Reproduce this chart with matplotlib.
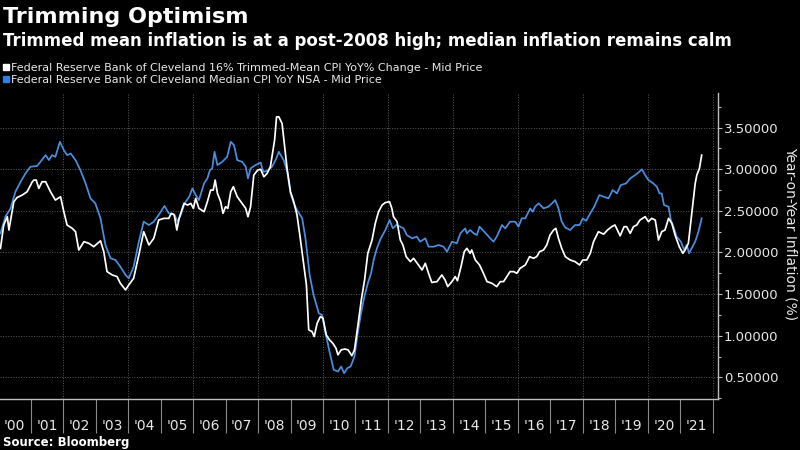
import matplotlib

matplotlib.use("Agg")

from matplotlib.lines import Line2D
from matplotlib.ticker import FormatStrFormatter, MultipleLocator
import matplotlib.pyplot as plt

# Values (decimal year, % YoY)
trim_years = [
    2000.07, 2000.17, 2000.28, 2000.33, 2000.48, 2000.58, 2000.74, 2000.89, 2001.05, 2001.10,
    2001.17, 2001.25, 2001.35, 2001.46, 2001.61, 2001.76, 2001.92, 2002.02, 2002.12, 2002.28,
    2002.38, 2002.48, 2002.64, 2002.79, 2002.94, 2003.15, 2003.25, 2003.35, 2003.51, 2003.66,
    2003.76, 2003.92, 2004.02, 2004.17, 2004.33, 2004.48, 2004.64, 2004.79, 2004.94, 2005.10,
    2005.25, 2005.33, 2005.42, 2005.50, 2005.57, 2005.72, 2005.83, 2005.93, 2006.01, 2006.08,
    2006.18, 2006.34, 2006.44, 2006.54, 2006.62, 2006.68, 2006.75, 2006.85, 2006.92, 2007.00,
    2007.07, 2007.16, 2007.24, 2007.36, 2007.51, 2007.62, 2007.69, 2007.77, 2007.87, 2007.99,
    2008.08, 2008.18, 2008.28, 2008.38, 2008.43, 2008.51, 2008.57, 2008.64, 2008.74, 2008.81,
    2008.90, 2009.00, 2009.10, 2009.20, 2009.30, 2009.41, 2009.49, 2009.56, 2009.66, 2009.73,
    2009.82, 2009.92, 2010.00, 2010.10, 2010.20, 2010.30, 2010.40, 2010.46, 2010.56, 2010.67,
    2010.77, 2010.89, 2010.97, 2011.07, 2011.18, 2011.28, 2011.38, 2011.51, 2011.61, 2011.71,
    2011.82, 2011.92, 2012.05, 2012.12, 2012.17, 2012.28, 2012.38, 2012.46, 2012.56, 2012.69,
    2012.79, 2012.94, 2013.05, 2013.15, 2013.25, 2013.35, 2013.51, 2013.66, 2013.76, 2013.84,
    2013.97, 2014.07, 2014.14, 2014.25, 2014.35, 2014.43, 2014.53, 2014.58, 2014.69, 2014.82,
    2014.94, 2015.05, 2015.20, 2015.35, 2015.46, 2015.56, 2015.66, 2015.76, 2015.87, 2015.97,
    2016.07, 2016.23, 2016.36, 2016.48, 2016.58, 2016.67, 2016.79, 2016.89, 2016.99, 2017.10,
    2017.17, 2017.25, 2017.35, 2017.46, 2017.61, 2017.76, 2017.90, 2018.00, 2018.12, 2018.23,
    2018.33, 2018.48, 2018.64, 2018.76, 2018.89, 2018.99, 2019.15, 2019.27, 2019.35, 2019.46,
    2019.56, 2019.66, 2019.76, 2019.92, 2020.02, 2020.12, 2020.23, 2020.33, 2020.43, 2020.53,
    2020.64, 2020.74, 2020.84, 2020.97, 2021.08, 2021.15, 2021.25, 2021.35, 2021.46, 2021.51,
    2021.59, 2021.66,
]
trim_values = [
    2.05, 2.33, 2.43, 2.27, 2.61, 2.66, 2.69, 2.73, 2.85, 2.87,
    2.87, 2.77, 2.85, 2.85, 2.73, 2.63, 2.67, 2.49, 2.33, 2.29,
    2.25, 2.03, 2.13, 2.11, 2.07, 2.14, 2.01, 1.77, 1.73, 1.71,
    1.63, 1.55, 1.61, 1.69, 1.97, 2.25, 2.09, 2.17, 2.39, 2.41,
    2.41, 2.47, 2.45, 2.27, 2.41, 2.59, 2.57, 2.59, 2.53, 2.65,
    2.53, 2.49, 2.61, 2.75, 2.75, 2.87, 2.71, 2.61, 2.47, 2.55,
    2.53, 2.73, 2.79, 2.67, 2.59, 2.53, 2.43, 2.55, 2.93, 2.99,
    3.00, 2.91, 2.95, 3.03, 3.15, 3.35, 3.63, 3.63, 3.55, 3.31,
    2.99, 2.73, 2.61, 2.45, 2.17, 1.85, 1.61, 1.07, 1.05, 0.99,
    1.15, 1.23, 1.21, 1.01, 0.95, 0.91, 0.85, 0.77, 0.83, 0.84,
    0.83, 0.76, 0.83, 1.11, 1.43, 1.67, 1.99, 2.15, 2.35, 2.49,
    2.57, 2.60, 2.61, 2.53, 2.43, 2.37, 2.15, 2.09, 1.95, 1.89,
    1.93, 1.85, 1.79, 1.87, 1.75, 1.64, 1.65, 1.73, 1.67, 1.59,
    1.65, 1.71, 1.66, 1.83, 2.01, 2.05, 1.99, 2.03, 1.91, 1.85,
    1.75, 1.65, 1.63, 1.59, 1.65, 1.65, 1.71, 1.77, 1.77, 1.75,
    1.81, 1.85, 1.95, 1.93, 1.95, 2.01, 2.03, 2.09, 2.21, 2.27,
    2.29, 2.17, 2.05, 1.95, 1.91, 1.89, 1.85, 1.91, 1.91, 1.99,
    2.13, 2.25, 2.22, 2.27, 2.31, 2.33, 2.20, 2.31, 2.31, 2.23,
    2.31, 2.33, 2.39, 2.43, 2.37, 2.41, 2.39, 2.15, 2.25, 2.27,
    2.41, 2.35, 2.21, 2.07, 1.99, 2.03, 2.11, 2.45, 2.83, 2.93,
    3.01, 3.17,
]

median_years = [
    2000.07, 2000.22, 2000.38, 2000.53, 2000.69, 2000.84, 2000.99, 2001.20, 2001.30, 2001.46,
    2001.56, 2001.66, 2001.76, 2001.90, 2002.02, 2002.12, 2002.23, 2002.38, 2002.53, 2002.69,
    2002.84, 2002.99, 2003.15, 2003.30, 2003.46, 2003.61, 2003.76, 2003.92, 2004.02, 2004.17,
    2004.33, 2004.48, 2004.64, 2004.79, 2004.94, 2005.12, 2005.25, 2005.42, 2005.52, 2005.62,
    2005.74, 2005.88, 2005.98, 2006.08, 2006.18, 2006.34, 2006.44, 2006.52, 2006.59, 2006.66,
    2006.75, 2006.90, 2007.05, 2007.16, 2007.26, 2007.36, 2007.51, 2007.62, 2007.69, 2007.77,
    2007.92, 2008.08, 2008.16, 2008.28, 2008.43, 2008.54, 2008.64, 2008.79, 2008.90, 2009.00,
    2009.10, 2009.20, 2009.36, 2009.46, 2009.59, 2009.71, 2009.87, 2009.97, 2010.07, 2010.20,
    2010.33, 2010.46, 2010.56, 2010.65, 2010.75, 2010.85, 2010.97, 2011.07, 2011.18, 2011.28,
    2011.38, 2011.48, 2011.56, 2011.66, 2011.78, 2011.92, 2012.05, 2012.15, 2012.26, 2012.38,
    2012.48, 2012.58, 2012.74, 2012.89, 2012.99, 2013.15, 2013.25, 2013.41, 2013.56, 2013.71,
    2013.82, 2013.97, 2014.12, 2014.23, 2014.38, 2014.43, 2014.53, 2014.64, 2014.74, 2014.82,
    2014.99, 2015.15, 2015.25, 2015.35, 2015.51, 2015.61, 2015.76, 2015.92, 2016.02, 2016.12,
    2016.23, 2016.38, 2016.46, 2016.53, 2016.64, 2016.79, 2016.94, 2017.05, 2017.15, 2017.25,
    2017.35, 2017.46, 2017.61, 2017.76, 2017.90, 2018.00, 2018.10, 2018.23, 2018.35, 2018.51,
    2018.64, 2018.79, 2018.92, 2019.05, 2019.17, 2019.33, 2019.46, 2019.61, 2019.71, 2019.82,
    2019.92, 2020.02, 2020.17, 2020.28, 2020.36, 2020.43, 2020.50, 2020.64, 2020.71, 2020.81,
    2020.89, 2021.02, 2021.12, 2021.20, 2021.27, 2021.35, 2021.46, 2021.56, 2021.66,
]
median_values = [
    2.23, 2.43, 2.53, 2.73, 2.85, 2.95, 3.03, 3.04, 3.09, 3.17,
    3.11, 3.17, 3.15, 3.33, 3.23, 3.17, 3.19, 3.11, 2.99, 2.83,
    2.65, 2.59, 2.41, 2.09, 1.93, 1.91, 1.83, 1.73, 1.69, 1.83,
    2.13, 2.37, 2.33, 2.37, 2.45, 2.56, 2.47, 2.46, 2.37, 2.45,
    2.59, 2.67, 2.77, 2.69, 2.63, 2.83, 2.89, 2.99, 3.01, 3.21,
    3.05, 3.09, 3.15, 3.33, 3.29, 3.11, 3.09, 3.03, 2.89, 3.01,
    3.05, 3.08, 2.97, 2.98, 3.03, 3.11, 3.21, 3.11, 2.97, 2.71,
    2.59, 2.51, 2.41, 2.17, 1.73, 1.49, 1.27, 1.25, 1.05, 0.81,
    0.59, 0.57, 0.63, 0.55, 0.61, 0.63, 0.75, 1.03, 1.29, 1.48,
    1.63, 1.75, 1.91, 2.05, 2.17, 2.27, 2.39, 2.29, 2.33, 2.31,
    2.29, 2.21, 2.17, 2.19, 2.13, 2.17, 2.07, 2.07, 2.09, 2.07,
    2.01, 2.13, 2.11, 2.23, 2.29, 2.23, 2.27, 2.23, 2.21, 2.31,
    2.24, 2.17, 2.13, 2.19, 2.33, 2.29, 2.37, 2.37, 2.31, 2.41,
    2.41, 2.53, 2.49, 2.55, 2.59, 2.53, 2.55, 2.59, 2.63, 2.53,
    2.37, 2.30, 2.27, 2.33, 2.33, 2.41, 2.38, 2.47, 2.55, 2.69,
    2.67, 2.65, 2.75, 2.71, 2.81, 2.83, 2.89, 2.93, 2.96, 3.00,
    2.93, 2.87, 2.83, 2.79, 2.71, 2.71, 2.57, 2.55, 2.39, 2.29,
    2.19, 2.13, 2.03, 2.09, 1.99, 2.05, 2.13, 2.25, 2.41,
]

label_years = list(range(2000, 2022))
year_labels = ["'%02d" % (y % 100) for y in label_years]

series_names = [
    "Federal Reserve Bank of Cleveland 16% Trimmed-Mean CPI YoY% Change - Mid Price",
    "Federal Reserve Bank of Cleveland Median CPI YoY NSA - Mid Price",
]

BLUE = "#4a8fdf"
BLUE_KEY = "#2f7fe8"
AXIS_GRAY = "#bdbdbd"
GRID_GRAY = "#5c5c5c"
TEXT = "#e8e8e8"

plt.rcParams["font.family"] = "DejaVu Sans"

fig = plt.figure(figsize=(8, 4.5), dpi=100, facecolor="black")
ax = fig.add_axes([0.0, 0.1127, 0.897, 0.6800], facecolor="black")

ax.plot(median_years, median_values, color=BLUE, lw=1.25, zorder=3)
ax.plot(trim_years, trim_values, color="white", lw=1.25, zorder=4)

ax.set_xlim(2000.055, 2022.15)
ax.set_ylim(0.236, 3.913)

for side in ["left", "top"]:
    ax.spines[side].set_visible(False)
for side in ["bottom", "right"]:
    ax.spines[side].set_color(AXIS_GRAY)
    ax.spines[side].set_linewidth(1.0)

# y axis on the right
ax.yaxis.tick_right()
ax.yaxis.set_major_locator(MultipleLocator(0.5))
ax.yaxis.set_minor_locator(MultipleLocator(0.25))
ax.yaxis.set_major_formatter(FormatStrFormatter("%.5f"))
ax.tick_params(axis="y", which="major", direction="out", length=3, width=0.8,
               color=AXIS_GRAY, labelcolor=TEXT, labelsize=9.5, pad=1.5)
ax.tick_params(axis="y", which="minor", direction="out", length=2, width=0.8,
               color=AXIS_GRAY)
ax.grid(axis="y", which="major", ls=":", color=GRID_GRAY, lw=0.7)

# x axis: year separators, labels centred in each year
ax.set_xticks(range(2001, 2023))
ax.set_xticks([y + 0.5 for y in label_years], minor=True)
ax.set_xticklabels(year_labels, minor=True)
ax.tick_params(axis="x", which="major", direction="out", length=24.5, width=0.8,
               color="#8a8a8a", labelbottom=False)
ax.tick_params(axis="x", which="minor", length=0, pad=14, labelsize=10,
               labelcolor=TEXT)
for yr in range(2002, 2023, 2):
    ax.axvline(yr, ls=":", color=GRID_GRAY, lw=0.7, zorder=1)

# Titles
fig.text(0.004, 0.962, "Trimming Optimism", weight="bold",
         fontsize=16, color="white", va="center")
fig.text(0.004, 0.909, "Trimmed mean inflation is at a post-2008 high; median inflation remains calm",
         weight="bold", fontsize=12, color="white", va="center")

# Legend
handles = [
    Line2D([], [], marker="s", ls="none", color="white", markersize=5),
    Line2D([], [], marker="s", ls="none", color=BLUE_KEY, markersize=5),
]
fig.legend(handles, series_names, loc="upper left", bbox_to_anchor=(0.004, 0.86),
           frameon=False, handlelength=0.5, handletextpad=0.2, labelspacing=0.2,
           borderaxespad=0, borderpad=0, fontsize=8, labelcolor=TEXT)

fig.text(0.988, 0.482, "Year-on-Year Inflation (%)", rotation=270, fontsize=10,
         color=TEXT, ha="center", va="center")

fig.text(0.004, 0.016, "Source: Bloomberg", weight="bold",
         fontsize=8.5, color="white", va="center")

fig.savefig("out.png", dpi=100, facecolor="black")
